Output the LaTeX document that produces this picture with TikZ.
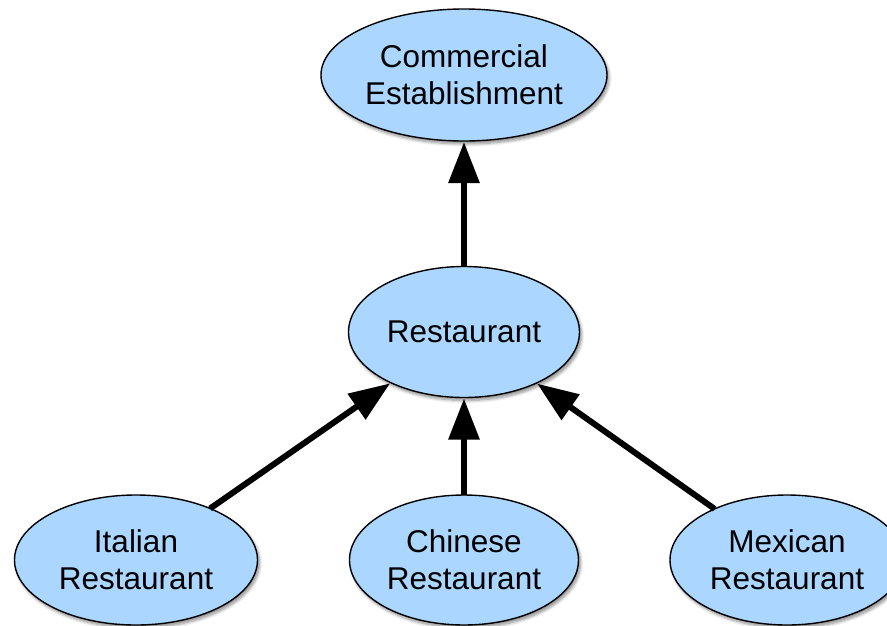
\documentclass[tikz,border=0pt]{standalone}
\usepackage{fontspec}
\setmainfont{Liberation Sans}
\usetikzlibrary{shapes.geometric,arrows.meta,shadows.blur}
\definecolor{nodeblue}{RGB}{170,214,255}
\tikzset{
  concept/.style={ellipse, draw=black, line width=1.4pt, fill=nodeblue,
    inner sep=0pt, outer sep=0pt, align=center,
    font=\fontsize{31.5pt}{37pt}\selectfont,
    blur shadow={shadow xshift=2pt, shadow yshift=-3pt, shadow opacity=45, shadow blur steps=6, shadow blur radius=3pt}},
  isa/.style={line width=6pt, -{Triangle[length=41pt,width=30pt]}, shorten >=1pt}
}
\begin{document}
\begin{tikzpicture}[x=1pt,y=-1pt]
\useasboundingbox (0,0) rectangle (887,625);
\clip (0,0) rectangle (887,625);
\node[concept, minimum width=286pt, minimum height=132pt] (ce) at (464,75) {Commercial\\Establishment};
\node[concept, minimum width=231pt, minimum height=131pt] (r) at (464,332) {Restaurant};
\node[concept, minimum width=243pt, minimum height=130pt] (it) at (136,560) {Italian\\Restaurant};
\node[concept, minimum width=229pt, minimum height=130pt] (ch) at (464,560) {Chinese\\Restaurant};
\node[concept, minimum width=234pt, minimum height=130pt] (mx) at (787,560) {Mexican\\Restaurant};
\draw[isa] (r) -- (ce);
\draw[isa] (it) -- (r);
\draw[isa] (ch) -- (r);
\draw[isa] (mx) -- (r);
\end{tikzpicture}
\end{document}
